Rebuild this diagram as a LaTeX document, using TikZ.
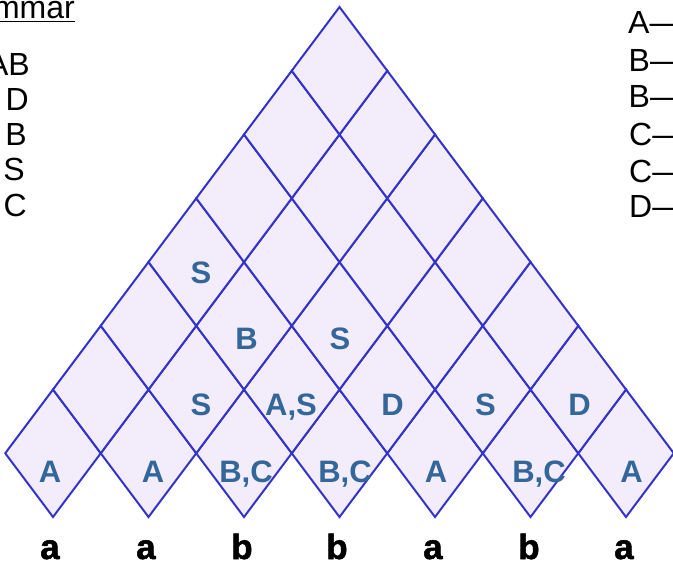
\documentclass[tikz,border=0pt]{standalone}
\usepackage{fontspec}
\setmainfont{Liberation Sans}
\newfontfamily\termfont[FakeBold=1.5]{Liberation Sans Bold}
\usetikzlibrary{shapes.geometric,calc}
\definecolor{cellfill}{RGB}{243,236,251}
\definecolor{celldraw}{RGB}{51,51,204}
\definecolor{labcol}{RGB}{51,102,153}
\tikzset{
  cell/.style={diamond,draw=celldraw,fill=cellfill,line width=2pt,inner sep=0pt,outer sep=0pt,
    minimum width=95.5pt,minimum height=127.5pt},
  lab/.style={anchor=base,inner sep=0pt,text=labcol,font=\fontsize{31}{31}\selectfont\bfseries},
  term/.style={anchor=base,inner sep=0pt,text=black,font=\fontsize{35}{35}\termfont},
  rulel/.style={anchor=base east,inner sep=0pt,font=\fontsize{32}{32}\selectfont},
  ruler/.style={anchor=base west,inner sep=0pt,font=\fontsize{32}{32}\selectfont}
}
\begin{document}
\begin{tikzpicture}[x=1pt,y=-1pt]
\useasboundingbox (0,0) rectangle (673,565);
\clip (0,0) rectangle (673,565);
\fill[white] (0,0) rectangle (673,565);
% CYK table cells
\foreach \r in {0,...,6}{
  \pgfmathtruncatemacro\n{6-\r}
  \foreach \i in {0,...,\n}{
    \node[cell] (c-\r-\i) at ({53+95.5*(\i+\r/2)},{453.25-63.75*\r}) {};
  }
}
% row 1 labels
\node[lab] (l-0-0) at (50,482) {A};
\node[lab] (l-0-1) at (153,482) {A};
\node[lab] (l-0-2) at (246,482) {B,C};
\node[lab] (l-0-3) at (345,482) {B,C};
\node[lab] (l-0-4) at (436,482) {A};
\node[lab] (l-0-5) at (539,482) {B,C};
\node[lab] (l-0-6) at (631.5,482) {A};
% row 2
\node[lab] (l-1-1) at (201,415) {S};
\node[lab] (l-1-2) at (291,415) {A,S};
\node[lab] (l-1-3) at (392.5,415) {D};
\node[lab] (l-1-4) at (485.5,415) {S};
\node[lab] (l-1-5) at (579.5,415) {D};
% row 3
\node[lab] (l-2-1) at (246.5,349) {B};
\node[lab] (l-2-2) at (340,349) {S};
% row 4
\node[lab] (l-3-0) at (201,283) {S};
% terminals
\node[term] (t0) at (50,559) {a};
\node[term] (t1) at (146,559) {a};
\node[term] (t2) at (242,559) {b};
\node[term] (t3) at (337,559) {b};
\node[term] (t4) at (433,559) {a};
\node[term] (t5) at (529,559) {b};
\node[term] (t6) at (624,559) {a};
% left grammar fragment
\node[rulel] (gram) at (75,18) {mmar};
\draw[line width=1.6pt] ($(gram.base west)+(0,3.5)$) -- ($(gram.base east)+(0,3.5)$);
\node[rulel] (g1) at (30,75) {AB};
\node[rulel] (g2) at (29,110) {D};
\node[rulel] (g3) at (27,145) {B};
\node[rulel] (g4) at (25,180) {S};
\node[rulel] (g5) at (27,216) {C};
% right grammar fragment
\node[ruler] (h1) at (628,33) {A—};
\node[ruler] (h2) at (628.5,71) {B—};
\node[ruler] (h3) at (628.5,107) {B—};
\node[ruler] (h4) at (629,145) {C—};
\node[ruler] (h5) at (629,182) {C—};
\node[ruler] (h6) at (629,217) {D—};
\end{tikzpicture}
\end{document}
